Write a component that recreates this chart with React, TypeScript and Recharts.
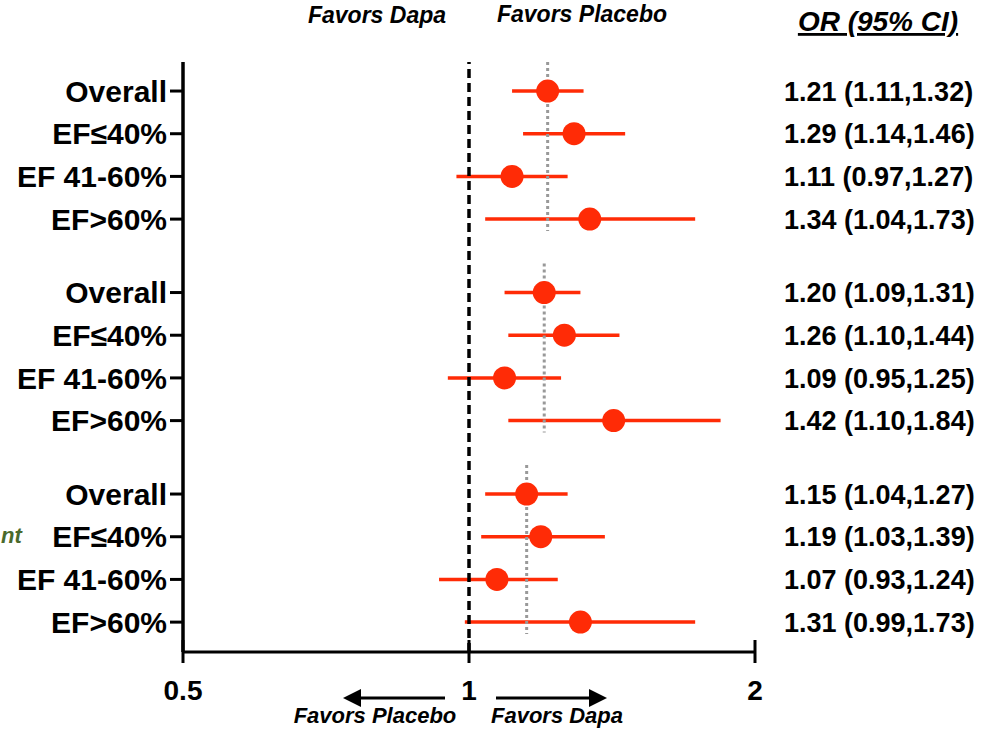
import {
  ScatterChart,
  Scatter,
  XAxis,
  YAxis,
  ErrorBar,
  ReferenceLine,
} from 'recharts';

const subgroups = ['Overall', 'EF≤40%', 'EF 41-60%', 'EF>60%'];
const oddsRatio = [1.21, 1.29, 1.11, 1.34, 1.2, 1.26, 1.09, 1.42, 1.15, 1.19, 1.07, 1.31];
const ciLower = [1.11, 1.14, 0.97, 1.04, 1.09, 1.1, 0.95, 1.1, 1.04, 1.03, 0.93, 0.99];
const ciUpper = [1.32, 1.46, 1.27, 1.73, 1.31, 1.44, 1.25, 1.84, 1.27, 1.39, 1.24, 1.73];
const xTicks = [0.5, 1, 2];

const RED = '#FF2B06';
const FONT = '"Liberation Sans", Arial, Helvetica, sans-serif';
const GROUP_STEP = 4.72; // row units between the start of each group

const rows = oddsRatio.map((or, i) => {
  const g = Math.floor(i / subgroups.length);
  const r = i % subgroups.length;
  return {
    pos: g * GROUP_STEP + r,
    or,
    err: [or - ciLower[i], ciUpper[i] - or],
    label: subgroups[r],
    text: `${or.toFixed(2)} (${ciLower[i].toFixed(2)},${ciUpper[i].toFixed(2)})`,
  };
});
const rowTicks = rows.map((d) => d.pos);
const groupStarts = rows.filter((_, i) => i % subgroups.length === 0);

const XTick = ({ x, y, payload }: any) => (
  <g>
    <line x1={x} x2={x} y1={y - 12} y2={y + 11} stroke="#000" strokeWidth={3} />
    <text
      x={x}
      y={y + 48}
      textAnchor="middle"
      fontFamily={FONT}
      fontWeight={700}
      fontSize={28}
      fill="#000"
    >
      {payload.value}
    </text>
  </g>
);

export default function App() {
  return (
    <div style={{ position: 'absolute', left: 0, top: 0, width: 981, height: 730, background: '#fff' }}>
      <ScatterChart
        width={981}
        height={730}
        margin={{ top: 62, right: 0, bottom: 0, left: 0 }}
      >
        <XAxis
          type="number"
          dataKey="or"
          scale="log"
          domain={[0.5, 2]}
          ticks={xTicks}
          allowDataOverflow
          height={78}
          axisLine={{ stroke: '#000', strokeWidth: 3 }}
          tickLine={false}
          tickSize={0}
          tickMargin={0}
          tick={<XTick />}
          interval={0}
        />
        <YAxis
          yAxisId="left"
          type="number"
          dataKey="pos"
          domain={[-0.68, 13.14]}
          reversed
          allowDataOverflow
          ticks={rowTicks}
          interval={0}
          width={183}
          axisLine={{ stroke: '#000', strokeWidth: 3.5 }}
          tickLine={{ stroke: '#000', strokeWidth: 3 }}
          tickSize={13}
          tickMargin={3}
          tickFormatter={(_v: number, i: number) => rows[i]?.label ?? ''}
          tick={{ fill: '#000', fontSize: 30, fontWeight: 700, fontFamily: FONT }}
        />
        <YAxis
          yAxisId="right"
          orientation="right"
          type="number"
          domain={[-0.68, 13.14]}
          reversed
          allowDataOverflow
          ticks={rowTicks}
          interval={0}
          width={226}
          axisLine={false}
          tickLine={false}
          tickSize={0}
          tickMargin={29}
          tickFormatter={(_v: number, i: number) => rows[i]?.text ?? ''}
          tick={{ fill: '#000', fontSize: 27, fontWeight: 700, fontFamily: FONT }}
        />
        <Scatter
          yAxisId="left"
          data={rows}
          isAnimationActive={false}
          shape={(p: any) => <circle cx={p.cx} cy={p.cy} r={11.5} fill={RED} />}
        >
          <ErrorBar
            dataKey="err"
            direction="x"
            width={0}
            stroke={RED}
            strokeWidth={3.5}
            isAnimationActive={false}
          />
        </Scatter>
        <ReferenceLine
          yAxisId="left"
          x={1}
          stroke="#000"
          strokeWidth={3.5}
          strokeDasharray="9 5"
        />
        {groupStarts.map((g, i) => (
          <ReferenceLine
            key={`grp-${i}`}
            yAxisId="left"
            segment={[
              { x: g.or, y: g.pos - 0.68 },
              { x: g.or, y: g.pos + 3.28 },
            ]}
            stroke="#999"
            strokeWidth={3}
            strokeDasharray="3 3"
            ifOverflow="visible"
          />
        ))}
      </ScatterChart>

      {/* annotations around the plot */}
      <svg
        width={981}
        height={730}
        style={{ position: 'absolute', left: 0, top: 0, pointerEvents: 'none' }}
        fontFamily={FONT}
        fontWeight={700}
        fontStyle="italic"
      >
        <defs>
          <marker id="arrow" markerWidth="6" markerHeight="6" refX="3" refY="3" orient="auto" markerUnits="strokeWidth">
            <path d="M0,0 L6,3 L0,6 z" fill="#000" />
          </marker>
        </defs>
        <text x={377} y={23} textAnchor="middle" fontSize={23} fill="#000">Favors Dapa</text>
        <text x={582} y={22} textAnchor="middle" fontSize={23} fill="#000">Favors Placebo</text>
        <text x={878} y={31} textAnchor="middle" fontSize={28} fill="#000" textDecoration="underline">
          OR (95% CI)
        </text>
        <line x1={445} y1={698} x2={352} y2={698} stroke="#000" strokeWidth={3} markerEnd="url(#arrow)" />
        <line x1={496} y1={698} x2={598} y2={698} stroke="#000" strokeWidth={3} markerEnd="url(#arrow)" />
        <text x={375} y={723} textAnchor="middle" fontSize={22} fill="#000">Favors Placebo</text>
        <text x={557} y={723} textAnchor="middle" fontSize={22} fill="#000">Favors Dapa</text>
        <text x={1} y={543} textAnchor="start" fontSize={22} fill="#4a6a2c">nt</text>
      </svg>
    </div>
  );
}
